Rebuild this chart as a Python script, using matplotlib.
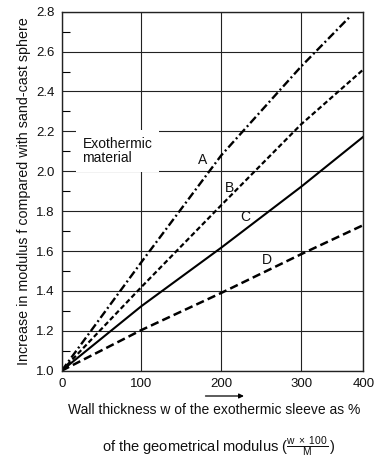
import numpy as np
import matplotlib
matplotlib.use("Agg")
import matplotlib.pyplot as plt
from matplotlib.ticker import MultipleLocator

plt.rcParams['font.family'] = ['Liberation Sans', 'DejaVu Sans']
plt.rcParams['mathtext.fontset'] = 'custom'
plt.rcParams['mathtext.rm'] = 'Liberation Sans'
plt.rcParams['mathtext.it'] = 'Liberation Sans:italic'
plt.rcParams['lines.scale_dashes'] = False

# values (wall thickness %, increase in modulus f)
x_a = [0, 100, 200, 300, 380]
f_a = [1.0, 1.545, 2.08, 2.525, 2.78]
x_b = [0, 100, 200, 300, 400]
f_b = [1.0, 1.42, 1.83, 2.235, 2.51]
x_c = [0, 100, 200, 300, 400]
f_c = [1.0, 1.324, 1.617, 1.922, 2.173]
x_d = [0, 100, 200, 300, 400]
f_d = [1.0, 1.204, 1.39, 1.584, 1.73]

curve_names = ['A', 'B', 'C', 'D']
label_x = [177, 210, 230, 257]
label_f = [2.056, 1.915, 1.772, 1.555]

x_ticks = [0, 100, 200, 300, 400]
y_ticks = [1.0, 1.2, 1.4, 1.6, 1.8, 2.0, 2.2, 2.4, 2.6, 2.8]

# the printed axis squeezes the last interval (300-400)
def fwd(x):
    return np.interp(x, [0, 300, 400], [0, 300, 378])

def inv(x):
    return np.interp(x, [0, 300, 378], [0, 300, 400])

fig = plt.figure(figsize=(3.81, 4.62), dpi=100)
ax = fig.add_axes([61.7 / 381, (462 - 370.7) / 462, (363.3 - 61.7) / 381, 359 / 462])
ax.set_xscale('function', functions=(fwd, inv))

ax.plot(x_a, f_a, color='black', lw=1.7, linestyle=(0, (6.0, 2.2, 1.4, 2.2)))
ax.plot(x_b, f_b, color='black', lw=1.6, linestyle=(0, (3.6, 2.0)))
ax.plot(x_c, f_c, color='black', lw=1.5, linestyle='-')
ax.plot(x_d, f_d, color='black', lw=1.8, linestyle=(0, (6.0, 3.0)))

for name, lx, lf in zip(curve_names, label_x, label_f):
    ax.text(lx, lf, name, fontsize=10, ha='center', va='center', color='#111111')

ax.text(26, 2.103, 'Exothermic\nmaterial', fontsize=10, ha='left', va='center',
        linespacing=1.0, color='#111111',
        bbox=dict(boxstyle='square,pad=0.5', facecolor='white', edgecolor='none'))

ax.set_xlim(0, 400)
ax.set_ylim(1.0, 2.8)
ax.set_xticks(x_ticks)
ax.set_yticks(y_ticks)
ax.set_yticklabels(['%.1f' % v for v in y_ticks])
ax.yaxis.set_minor_locator(MultipleLocator(0.1))
ax.grid(True, which='major', color='#222222', lw=0.8)
ax.tick_params(which='major', length=0, labelsize=9.5, pad=5, labelcolor='#111111')
ax.tick_params(axis='y', which='minor', direction='in', length=6, width=0.8, left=True)
ax.tick_params(axis='x', which='minor', length=0)
for s in ax.spines.values():
    s.set_linewidth(1.0)
    s.set_color('#222222')

ax.set_ylabel('Increase in modulus f compared with sand-cast sphere', fontsize=10.3,
              labelpad=4, color='#111111')

fig.text(0.562, 0.1126, 'Wall thickness w of the exothermic sleeve as %',
         fontsize=10, ha='center', va='center', color='#111111')
fig.text(0.575, 0.032,
         r'of the geometrical modulus ($\frac{\mathrm{w\ \times\ 100}}{\mathrm{M}}\,$)',
         fontsize=10.5, ha='center', va='center', color='#111111')
fig.add_artist(matplotlib.patches.FancyArrowPatch((202.7 / 381, 66 / 462), (246.7 / 381, 66 / 462),
               transform=fig.transFigure, arrowstyle='-|>', mutation_scale=7, lw=0.9, color='black'))

fig.savefig('out.png', dpi=100)
